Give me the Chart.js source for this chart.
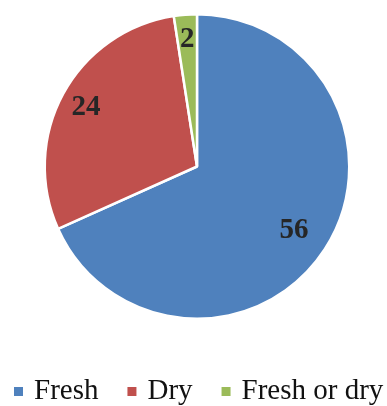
<!DOCTYPE html>
<html>
<head>
<meta charset="utf-8">
<script src="https://cdn.jsdelivr.net/npm/chart.js@4/dist/chart.umd.min.js"></script>
<style>
  html, body { margin: 0; padding: 0; background: #fff; }
  #wrap { width: 387px; height: 406px; position: relative; }
</style>
</head>
<body>
<div id="wrap"><canvas id="pie"></canvas></div>
<script>
// values
const categories = ["Fresh", "Dry", "Fresh or dry"];
const counts = [56, 24, 2];
const colours = ["#4F81BD", "#C0504D", "#9BBB59"];

// how far out each number sits (fraction of radius)
const labelPos = [0.76, 0.83, 0.84];

const sliceLabels = {
  id: "sliceLabels",
  afterDatasetsDraw(chart) {
    const ctx = chart.ctx;
    const meta = chart.getDatasetMeta(0);
    ctx.save();
    ctx.font = "bold 29px 'Liberation Serif', 'Times New Roman', serif";
    ctx.fillStyle = "#262626";
    ctx.textAlign = "center";
    ctx.textBaseline = "middle";
    meta.data.forEach((arc, i) => {
      const mid = (arc.startAngle + arc.endAngle) / 2;
      const r = arc.outerRadius * labelPos[i];
      ctx.fillText(String(counts[i]), arc.x + Math.cos(mid) * r, arc.y + Math.sin(mid) * r + 1);
    });
    ctx.restore();
  }
};

// legend drawn by hand so it can sit low like the original
const bottomLegend = {
  id: "bottomLegend",
  afterDraw(chart) {
    const ctx = chart.ctx;
    ctx.save();
    ctx.font = "29px 'Liberation Serif', 'Times New Roman', serif";
    ctx.textBaseline = "alphabetic";
    let x = 14;
    const baseline = 399;
    categories.forEach((name, i) => {
      ctx.fillStyle = colours[i];
      ctx.fillRect(x, 387, 9, 9);
      ctx.fillStyle = "#111";
      ctx.fillText(name, x + 20, baseline);
      x += 20 + ctx.measureText(name).width + 29;
    });
    ctx.restore();
  }
};

new Chart(document.getElementById("pie"), {
  type: "pie",
  data: {
    labels: categories,
    datasets: [{
      data: counts,
      backgroundColor: colours,
      borderColor: "#ffffff",
      borderWidth: 2.5
    }]
  },
  options: {
    responsive: true,
    maintainAspectRatio: false,
    animation: false,
    layout: { padding: { top: 13, bottom: 86, left: 7, right: 0 } },
    plugins: {
      legend: { display: false },
      tooltip: { enabled: false }
    }
  },
  plugins: [sliceLabels, bottomLegend]
});
</script>
</body>
</html>
